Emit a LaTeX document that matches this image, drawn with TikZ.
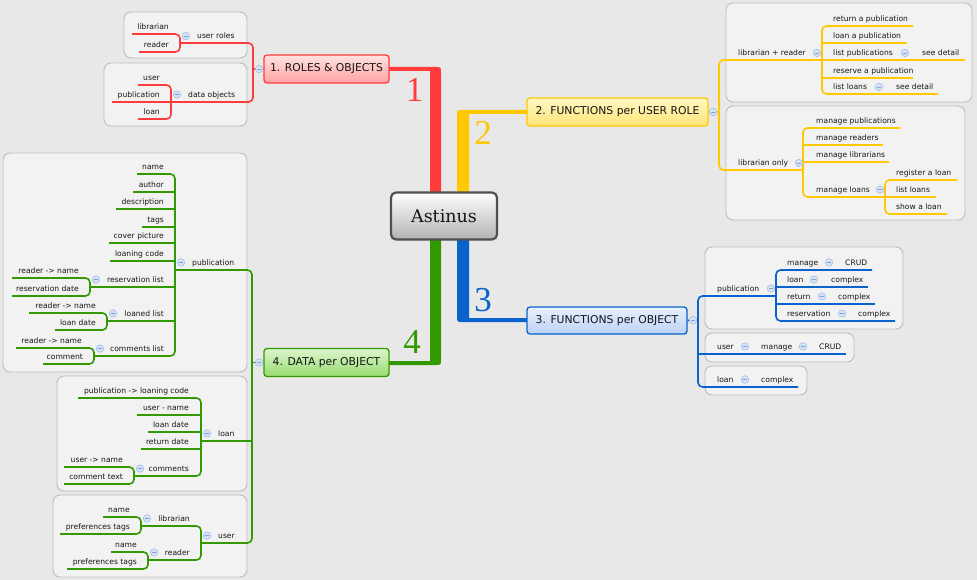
\documentclass[tikz,border=0pt]{standalone}
\usepackage{fontspec}
\setmainfont{DejaVu Sans}
\newfontfamily\centerfont{DejaVu Serif}
\newfontfamily\numfont{Liberation Serif}
\definecolor{bg}{HTML}{E8E8E8}
\definecolor{panelf}{HTML}{F2F2F2}
\definecolor{panelb}{HTML}{BDBDBD}
\definecolor{textc}{HTML}{151515}
\definecolor{redc}{HTML}{FF3B3B}
\definecolor{yelc}{HTML}{FFC800}
\definecolor{bluc}{HTML}{0A62CC}
\definecolor{grnc}{HTML}{339900}
\definecolor{collf}{HTML}{D5E3F6}
\definecolor{collb}{HTML}{A6BEE4}
\definecolor{collm}{HTML}{7F9FD6}
\definecolor{centerb}{HTML}{505050}
\definecolor{centerbot}{HTML}{B2B2B2}
\definecolor{n1top}{HTML}{FFE2E2}
\definecolor{n1bot}{HTML}{FFA2A2}
\definecolor{n2top}{HTML}{FFF8C4}
\definecolor{n2bot}{HTML}{FFE478}
\definecolor{n3top}{HTML}{E8F0FF}
\definecolor{n3bot}{HTML}{BCD2F6}
\definecolor{n4top}{HTML}{DCF6CE}
\definecolor{n4bot}{HTML}{96DA70}
\newcommand\Ltxt[3]{\node[txt,anchor=base east] (#1) at (#2) {#3};}
\newcommand\Rtxt[3]{\node[txt,anchor=base west] (#1) at (#2) {#3};}
\newcommand\Coll[2]{\node[coll] (#1) at (#2) {};}
\begin{document}
\begin{tikzpicture}[x=1pt,y=-1pt,
  txt/.style={inner sep=0pt, font=\fontsize{7.6}{9}\selectfont, text=textc},
  panel/.style={draw=panelb, fill=panelf, rounded corners=7, line width=0.9},
  con/.style={line width=1.6},
  rc/.style={rounded corners=4.5},
  coll/.style={circle, inner sep=0pt, minimum size=7.5pt, fill=collf, draw=collb, line width=0.6pt,
    path picture={\draw[collm, line width=0.8pt] ([xshift=-2pt]path picture bounding box.center) -- ([xshift=2pt]path picture bounding box.center);}},
  topic/.style={rounded corners=3, line width=1.3, minimum height=28pt, inner sep=0pt,
    font=\fontsize{10.8}{13}\selectfont, text=textc},
  bignum/.style={inner sep=0pt, font=\numfont\fontsize{35}{40}\selectfont}
]
\useasboundingbox (0,0) rectangle (977,580);
\fill[bg] (0,0) rectangle (977,580);

% ---------- panels ----------
\draw[panel] (124,12) rectangle (247,58);
\draw[panel] (104,63) rectangle (247,126);
\draw[panel] (726,3) rectangle (972,102);
\draw[panel] (726,106) rectangle (965,220);
\draw[panel] (705,247) rectangle (903,329);
\draw[panel] (705,333) rectangle (854,362);
\draw[panel] (705,366) rectangle (807,395);
\draw[panel] (3,153) rectangle (247,372);
\draw[panel] (57,376) rectangle (247,491);
\draw[panel] (53,495) rectangle (247,577);

% ---------- main branches ----------
\fill[redc] (389,67) -- (435,67) .. controls (441,67) .. (441,73) -- (441,205) -- (430,205) -- (430,71) -- (389,71) -- cycle;
\fill[yelc] (527,110) -- (463,110) .. controls (457,110) .. (457,116) -- (457,205) -- (469,205) -- (469,114) -- (527,114) -- cycle;
\fill[bluc] (527,322) -- (463,322) .. controls (457,322) .. (457,316) -- (457,230) -- (469,230) -- (469,318) -- (527,318) -- cycle;
\fill[grnc] (389,365) -- (435,365) .. controls (441,365) .. (441,359) -- (441,230) -- (430,230) -- (430,361) -- (389,361) -- cycle;

\node[draw=centerb, line width=2.2, rounded corners=5, minimum width=106pt, minimum height=47pt,
  top color=white, bottom color=centerbot, text=textc,
  font=\centerfont\fontsize{17.5}{20}\selectfont] (astinus) at (444,216) {Astinus};

\node[topic, draw=redc, top color=n1top, bottom color=n1bot,
  minimum width=125pt] (n1) at (326.5,69) {1. ROLES \& OBJECTS};
\node[topic, draw=yelc, top color=n2top, bottom color=n2bot,
  minimum width=181pt] (n2) at (617.5,112) {2. FUNCTIONS per USER ROLE};
\node[topic, draw=bluc, top color=n3top, bottom color=n3bot,
  minimum width=160pt, minimum height=27pt] (n3) at (607,320.5) {3. FUNCTIONS per OBJECT};
\node[topic, draw=grnc, top color=n4top, bottom color=n4bot,
  minimum width=125pt] (n4) at (326.5,362.5) {4. DATA per OBJECT};

\node[bignum, text=redc] (num1) at (414.5,90) {1};
\node[bignum, text=yelc] (num2) at (483,133) {2};
\node[bignum, text=bluc] (num3) at (483,300) {3};
\node[bignum, text=grnc] (num4) at (412,342) {4};

% ---------- section 1 (red) ----------
\begin{scope}[con, draw=redc]
\draw[rc] (132,34) -- (180,34) -- (180,52) -- (139,52);
\draw[rc] (138,85) -- (171,85) -- (171,119) -- (138,119);
\draw (112,102) -- (171,102);
\draw[rc] (180,43) -- (253,43) -- (253,102) -- (171,102);
\draw (253,69) -- (n1.west);
\end{scope}
\Rtxt{userroles}{197,38.5}{user roles}
\Ltxt{librarianA}{169,29.5}{librarian}
\Ltxt{readerA}{169,47.5}{reader}
\Rtxt{dataobj}{188,97.5}{data objects}
\Ltxt{userA}{160,80.5}{user}
\Ltxt{pubA}{160,97.5}{publication}
\Ltxt{loanA}{160,114.5}{loan}
\Coll{cA1}{186,36}
\Coll{cA2}{177,94.5}
\Coll{cA0}{259,69}

% ---------- section 2 (yellow) ----------
\begin{scope}[con, draw=yelc]
\draw[rc] (822,60) -- (719,60) -- (719,170) -- (803,170);
\draw (n2.east) -- (719,112);
\draw[rc] (913,26) -- (822,26) -- (822,94) -- (938,94);
\draw (822,43) -- (907,43);
\draw (822,60) -- (965,60);
\draw (822,78) -- (913,78);
\draw[rc] (900,128) -- (803,128) -- (803,197) -- (885,197);
\draw (803,145) -- (883,145);
\draw (803,162) -- (889,162);
\draw[rc] (957,180) -- (885,180) -- (885,214) -- (947,214);
\draw (885,197) -- (936,197);
\end{scope}
\Rtxt{libread}{738,55.5}{librarian + reader}
\Rtxt{retpub}{833,21.5}{return a publication}
\Rtxt{loanpub}{833,38.5}{loan a publication}
\Rtxt{listpub}{833,55.5}{list publications}
\Rtxt{seedetA}{922,55.5}{see detail}
\Rtxt{respub}{833,73.5}{reserve a publication}
\Rtxt{listloansA}{833,89.5}{list loans}
\Rtxt{seedetB}{896,89.5}{see detail}
\Rtxt{libonly}{738,165.5}{librarian only}
\Rtxt{manpub}{816,123.5}{manage publications}
\Rtxt{manread}{816,140.5}{manage readers}
\Rtxt{manlib}{816,157.5}{manage librarians}
\Rtxt{manloans}{816,192.5}{manage loans}
\Rtxt{regloan}{896,175.5}{register a loan}
\Rtxt{listloansB}{896,192.5}{list loans}
\Rtxt{showloan}{896,209.5}{show a loan}
\Coll{cB0}{713,112}
\Coll{cB1}{817,53}
\Coll{cB2}{905,53}
\Coll{cB3}{879,87}
\Coll{cB4}{799,163}
\Coll{cB5}{880,189.5}

% ---------- section 3 (blue) ----------
\begin{scope}[con, draw=bluc]
\draw[rc] (776,296) -- (698,296) -- (698,387) -- (798,387);
\draw (698,354) -- (846,354);
\draw (n3.east) -- (698,320);
\draw[rc] (872,270) -- (776,270) -- (776,321) -- (895,321);
\draw (776,287) -- (868,287);
\draw (776,304) -- (875,304);
\end{scope}
\Rtxt{pubB}{717,291.5}{publication}
\Rtxt{manageB}{787,265.5}{manage}
\Rtxt{crudB}{845,265.5}{CRUD}
\Rtxt{loanB}{787,282.5}{loan}
\Rtxt{cxB}{831,282.5}{complex}
\Rtxt{retB}{787,299.5}{return}
\Rtxt{cxC}{838,299.5}{complex}
\Rtxt{resB}{787,316.5}{reservation}
\Rtxt{cxD}{858,316.5}{complex}
\Rtxt{userB}{717,349.5}{user}
\Rtxt{manageC}{761,349.5}{manage}
\Rtxt{crudC}{819,349.5}{CRUD}
\Rtxt{loanC}{717,382.5}{loan}
\Rtxt{cxE}{761,382.5}{complex}
\Coll{cC0}{693,320}
\Coll{cC1}{771,288.5}
\Coll{cC2}{829,262.5}
\Coll{cC3}{814,279.5}
\Coll{cC4}{822,296.5}
\Coll{cC5}{842,313.5}
\Coll{cC6}{745,346.5}
\Coll{cC7}{803,346.5}
\Coll{cC8}{745,379.5}

% ---------- section 4 (green) ----------
\begin{scope}[con, draw=grnc]
\draw[rc] (175,270) -- (252,270) -- (252,543) -- (201,543);
\draw (201,441) -- (252,441);
\draw (252,362.5) -- (n4.west);
\draw[rc] (137,174) -- (175,174) -- (175,356) -- (94,356);
\draw (133,192) -- (175,192);
\draw (116,209) -- (175,209);
\draw (142,227) -- (175,227);
\draw (109,243) -- (175,243);
\draw (110,261) -- (175,261);
\draw (90,287) -- (175,287);
\draw (107,321) -- (175,321);
\draw[rc] (12,278) -- (90,278) -- (90,296) -- (12,296);
\draw[rc] (29,313) -- (107,313) -- (107,330) -- (55,330);
\draw[rc] (16,348) -- (94,348) -- (94,364) -- (43,364);
\draw[rc] (78,398) -- (201,398) -- (201,476) -- (134,476);
\draw (137,415) -- (201,415);
\draw (148,432) -- (201,432);
\draw (141,449) -- (201,449);
\draw[rc] (64,467) -- (134,467) -- (134,484) -- (64,484);
\draw[rc] (141,526) -- (201,526) -- (201,560) -- (148,560);
\draw[rc] (103,517) -- (141,517) -- (141,534) -- (60,534);
\draw[rc] (111,552) -- (148,552) -- (148,569) -- (67,569);
\end{scope}
\Rtxt{pubC}{192,265.5}{publication}
\Ltxt{nameA}{164,169.5}{name}
\Ltxt{author}{164,187.5}{author}
\Ltxt{descr}{164,204.5}{description}
\Ltxt{tags}{164,222.5}{tags}
\Ltxt{cover}{164,238.5}{cover picture}
\Ltxt{loancode}{164,256.5}{loaning code}
\Ltxt{reslist}{164,282.5}{reservation list}
\Ltxt{rnA}{79,273.5}{reader -> name}
\Ltxt{resdate}{79,291.5}{reservation date}
\Ltxt{loanedlist}{164,316.5}{loaned list}
\Ltxt{rnB}{96,308.5}{reader -> name}
\Ltxt{loandateA}{96,325.5}{loan date}
\Ltxt{comlist}{164,351.5}{comments list}
\Ltxt{rnC}{82,343.5}{reader -> name}
\Ltxt{comment}{83,359.5}{comment}
\Rtxt{loanD}{218,436.5}{loan}
\Ltxt{plc}{189,393.5}{publication -> loaning code}
\Ltxt{username}{189,410.5}{user - name}
\Ltxt{loandateB}{189,427.5}{loan date}
\Ltxt{retdate}{189,444.5}{return date}
\Ltxt{comments}{189,471.5}{comments}
\Ltxt{unA}{123,462.5}{user -> name}
\Ltxt{comtext}{123,479.5}{comment text}
\Rtxt{userD}{218,538.5}{user}
\Ltxt{libD}{190,521.5}{librarian}
\Ltxt{nameB}{130,512.5}{name}
\Ltxt{preftagsA}{130,529.5}{preferences tags}
\Ltxt{readerD}{190,555.5}{reader}
\Ltxt{nameC}{137,547.5}{name}
\Ltxt{preftagsB}{137,564.5}{preferences tags}
\Coll{cD0}{259,362.5}
\Coll{cD1}{181,262.5}
\Coll{cD2}{96,279.5}
\Coll{cD3}{113,313.5}
\Coll{cD4}{100,348.5}
\Coll{cD5}{207,433.5}
\Coll{cD6}{140,468.5}
\Coll{cD7}{207,535.5}
\Coll{cD8}{147,518.5}
\Coll{cD9}{154,552.5}
\end{tikzpicture}
\end{document}
